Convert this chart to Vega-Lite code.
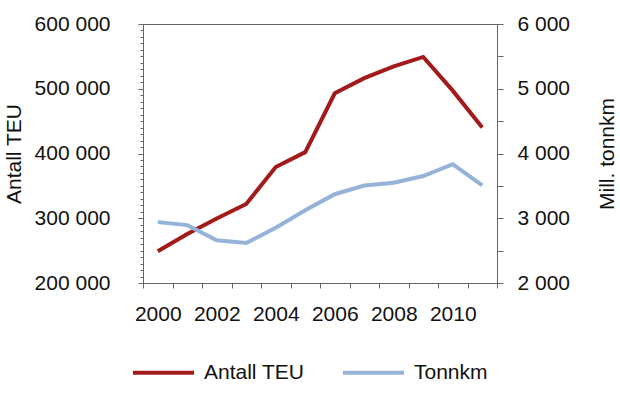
{
  "$schema": "https://vega.github.io/schema/vega-lite/v6.json",
  "width": 354,
  "height": 259,
  "autosize": {"type": "none"},
  "padding": {"left": 143, "top": 24, "right": 123, "bottom": 118},
  "config": {
    "view": {"stroke": "#666", "strokeWidth": 1},
    "font": "Liberation Sans",
    "axis": {
      "labelFont": "Liberation Sans", "labelFontSize": 21, "labelColor": "#111",
      "titleFont": "Liberation Sans", "titleFontSize": 21, "titleFontWeight": "normal", "titleColor": "#111",
      "domainColor": "#666", "tickColor": "#666", "grid": false
    }
  },
  "data": {
    "values": [
      {"year": 2000, "teu": 249000, "tonnkm": 2940},
      {"year": 2001, "teu": 275800, "tonnkm": 2894},
      {"year": 2002, "teu": 299700, "tonnkm": 2660},
      {"year": 2003, "teu": 322100, "tonnkm": 2618},
      {"year": 2004, "teu": 379200, "tonnkm": 2852},
      {"year": 2005, "teu": 402100, "tonnkm": 3122},
      {"year": 2006, "teu": 493000, "tonnkm": 3371},
      {"year": 2007, "teu": 516400, "tonnkm": 3506},
      {"year": 2008, "teu": 534500, "tonnkm": 3548},
      {"year": 2009, "teu": 549100, "tonnkm": 3652},
      {"year": 2010, "teu": 497100, "tonnkm": 3834},
      {"year": 2011, "teu": 440000, "tonnkm": 3506}
    ]
  },
  "encoding": {
    "x": {
      "field": "year", "type": "ordinal",
      "scale": {"type": "band", "paddingInner": 0, "paddingOuter": 0},
      "bandPosition": 0.5,
      "axis": {
        "title": null, "labelAngle": 0, "tickBand": "extent",
        "labelExpr": "datum.value % 2 == 0 ? datum.label : ''",
        "tickSize": 5, "labelPadding": 15, "labelOverlap": false
      }
    }
  },
  "layer": [
    {
      "mark": {"type": "line", "strokeWidth": 4},
      "encoding": {
        "y": {
          "field": "teu", "type": "quantitative",
          "scale": {"domain": [200000, 600000], "nice": false, "zero": false},
          "axis": {
            "title": "Antall TEU", "orient": "left",
            "values": [200000,210000,220000,230000,240000,250000,260000,270000,280000,290000,300000,310000,320000,330000,340000,350000,360000,370000,380000,390000,400000,410000,420000,430000,440000,450000,460000,470000,480000,490000,500000,510000,520000,530000,540000,550000,560000,570000,580000,590000,600000],
            "labelExpr": "datum.value % 100000 === 0 ? floor(datum.value/1000) + ' 000' : ''",
            "tickSize": {"condition": {"test": "datum.value % 100000 === 0", "value": 5}, "value": 3},
            "labelPadding": 28, "labelOverlap": false, "labelFlush": false, "labelBound": false,
            "titlePadding": 10
          }
        },
        "color": {
          "datum": "Antall TEU",
          "scale": {"domain": ["Antall TEU", "Tonnkm"], "range": ["#a31a1a", "#95b3d7"]},
          "legend": {
            "title": null, "orient": "none", "legendX": -12, "legendY": 316,
            "direction": "horizontal", "symbolType": "stroke", "symbolSize": 3721,
            "symbolStrokeWidth": 4, "labelFontSize": 21, "labelFont": "Liberation Sans",
            "labelColor": "#111", "labelOffset": 8, "columnPadding": 30
          }
        }
      }
    },
    {
      "mark": {"type": "line", "strokeWidth": 4},
      "encoding": {
        "y": {
          "field": "tonnkm", "type": "quantitative",
          "scale": {"domain": [2000, 6000], "nice": false, "zero": false},
          "axis": {
            "title": "Mill. tonnkm", "orient": "right",
            "values": [2000,2500,3000,3500,4000,4500,5000,5500,6000],
            "labelExpr": "datum.value % 1000 === 0 ? floor(datum.value/1000) + ' 000' : ''",
            "tickSize": 6, "labelPadding": 14, "labelOverlap": false, "labelFlush": false, "labelBound": false,
            "titleAngle": 270, "titlePadding": 48
          }
        },
        "color": {"datum": "Tonnkm"}
      }
    }
  ],
  "resolve": {"scale": {"y": "independent"}}
}
